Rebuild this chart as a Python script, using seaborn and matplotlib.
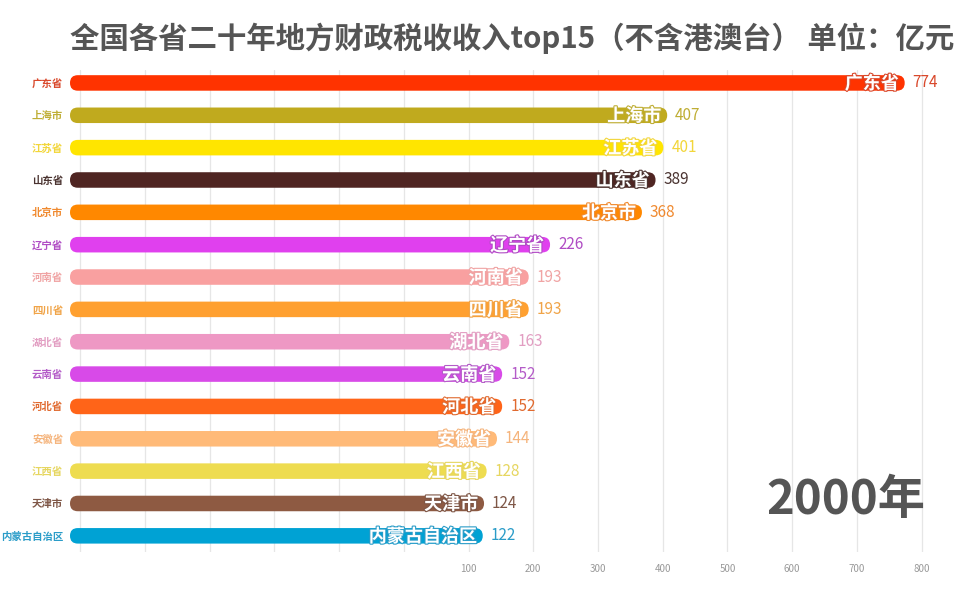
import numpy as np
import pandas as pd
import matplotlib.pyplot as plt
import seaborn as sns
from matplotlib.patches import FancyBboxPatch
import matplotlib.patheffects as pe

# 数据
provinces = ["广东省", "上海市", "江苏省", "山东省", "北京市", "辽宁省", "河南省", "四川省",
             "湖北省", "云南省", "河北省", "安徽省", "江西省", "天津市", "内蒙古自治区"]
revenue = [774, 407, 401, 389, 368, 226, 193, 193, 163, 152, 152, 144, 128, 124, 122]
bar_colors = ["#FF3300", "#C0AA1E", "#FFE500", "#4F2522", "#FF8800", "#E040EE", "#F9A0A0", "#FFA030",
              "#EE98C4", "#D84AE8", "#FF6418", "#FFBA78", "#EEDC50", "#8E5A42", "#00A2D4"]
text_colors = ["#D9482B", "#BFAE35", "#F2D63A", "#4A3330", "#F08A30", "#B04CC4", "#F0A4A4", "#F0A448",
               "#E29EC2", "#B45CC8", "#E06A30", "#F5B47C", "#E6D660", "#7E5646", "#2A9CC8"]
x_ticks = [-500, -400, -300, -200, -100, 0, 100, 200, 300, 400, 500, 600, 700, 800]
year_label = "2000年"
title = "全国各省二十年地方财政税收收入top15（不含港澳台） 单位：亿元"

sns.set_theme(style="white")
plt.rcParams['font.family'] = ['Noto Sans CJK SC', 'DejaVu Sans']

df = pd.DataFrame({"省份": provinces, "收入": revenue})

W, H = 964, 602
fig = plt.figure(figsize=(W / 100, H / 100), dpi=100)
ax_l, ax_r, ax_t, ax_b = 70, 950, 70, 552
ax = fig.add_axes([ax_l / W, 1 - ax_b / H, (ax_r - ax_l) / W, (ax_b - ax_t) / H])

sns.barplot(data=df, x="收入", y="省份", hue="省份", palette=bar_colors, legend=False,
            orient="h", width=0.48, saturation=1, ax=ax)

x_min, x_max = -515.8, 844
ax.set_xlim(x_min, x_max)
ax.set_ylim(14.5, -0.4)

# 圆角条形
sx = (ax_r - ax_l) / (x_max - x_min)
sy = (ax_b - ax_t) / 14.9
for p in list(ax.patches):
    y, h, w = p.get_y(), p.get_height(), p.get_width()
    fc = p.get_facecolor()
    p.remove()
    r = h * sy / 2 / sx
    ax.add_patch(FancyBboxPatch((x_min, y), w - x_min, h,
                                boxstyle=f"round,pad=0,rounding_size={r}",
                                mutation_aspect=sx / sy, facecolor=fc, edgecolor="none", zorder=3))

# 条内名称和数值
for i, (name, val) in enumerate(zip(provinces, revenue)):
    ax.text(val - 6 / sx, i + 0.02, name, ha="right", va="center", color="white",
            fontsize=13, fontweight="bold", zorder=4,
            path_effects=[pe.withStroke(linewidth=1.6, foreground=text_colors[i])])
    ax.text(val + 8 / sx, i, str(val), ha="left", va="center", color=text_colors[i],
            fontsize=11, fontweight="light", zorder=4)

ax.set_xticks(x_ticks)
ax.set_xticklabels([str(v) if v > 0 else "" for v in x_ticks], color="#999999", fontsize=7)
ax.tick_params(axis="x", length=0, pad=9)
ax.tick_params(axis="y", length=0, pad=5)
for lbl, c in zip(ax.get_yticklabels(), text_colors):
    lbl.set_color(c)
    lbl.set_fontsize(7.5)
    lbl.set_fontweight("bold")
ax.grid(axis="x", color="#E6E6E6", linewidth=0.9)
ax.set_axisbelow(True)
ax.set_xlabel("")
ax.set_ylabel("")
for s in ax.spines.values():
    s.set_visible(False)

fig.text(70 / W, 1 - 38 / H, title, ha="left", va="center", fontsize=21.2,
         fontweight="bold", color="#555555")
fig.text(925 / W, 1 - 500 / H, year_label, ha="right", va="center", fontsize=34,
         fontweight="bold", color="#555555")

fig.savefig("out.png", dpi=100)
